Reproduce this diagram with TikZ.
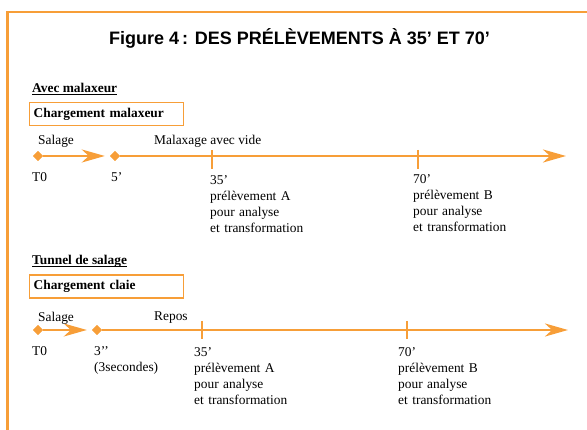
\documentclass[tikz,border=0pt]{standalone}
\usepackage{fontspec}
\setmainfont{Liberation Serif}
\newfontfamily\titlefont{Liberation Sans}
\usetikzlibrary{arrows.meta,shapes.geometric}
\definecolor{salorange}{RGB}{247,158,56}

\begin{document}
\begin{tikzpicture}[
    x=1pt, y=-1pt,
    txt/.style={anchor=base west, inner sep=0pt, font=\fontsize{13.4}{16}\selectfont},
    block/.style={txt, text width=130pt, align=left},
    loadbox/.style={draw=salorange, line width=1.3pt, anchor=north west, minimum width=154pt, minimum height=23pt, text width=146pt, inner xsep=4pt, inner ysep=0pt, align=left, font=\fontsize{13.4}{16}\selectfont\bfseries},
    event/.style={diamond, fill=salorange, inner sep=0pt, minimum size=10pt},
    timeline/.style={draw=salorange, line width=2.6pt, -{Stealth[length=23pt, width=13pt, inset=7pt]}},
    tickmark/.style={draw=salorange, line width=2.4pt},
    frame/.style={draw=salorange, line width=2.6pt}
]
\useasboundingbox (0,0) rectangle (587,430);
\clip (0,0) rectangle (587,430);

\draw[frame] (7.7,440) -- (7.7,12) -- (600,12);

\node[anchor=base, inner sep=0pt, font=\titlefont\bfseries\fontsize{18}{20}\selectfont] (title) at (299.5,45) {Figure 4\,: DES PRÉLÈVEMENTS À 35’ ET 70’};

% avec malaxeur
\node[txt, font=\fontsize{13.4}{16}\selectfont\bfseries] (avec) at (32,93) {\underline{\smash{Avec malaxeur}}};
\node[loadbox] (chargemal) at (29,102) {Chargement malaxeur};

\node[event] (t0mal) at (38,156) {};
\node[event] (t5mal) at (115,156) {};
\coordinate (endmal) at (566,156);
\draw[timeline] (t0mal) -- (t5mal) [shorten >=5pt];
\draw[timeline] (t5mal) -- (endmal);
\node[event] at (t0mal) {};
\node[event] at (t5mal) {};
\draw[tickmark] (212,150) -- (212,169);
\draw[tickmark] (418,150) -- (418,169);

\node[txt] (salmal) at (38,144.5) {Salage};
\node[txt] (vide) at (154,145) {Malaxage avec vide};
\node[txt] (t0malt) at (32,181.5) {T0};
\node[txt] (t5malt) at (111,181.5) {5’};
\node[block] (amal) at (210,184.5) {35’\\prélèvement A\\pour analyse\\et transformation};
\node[block] (bmal) at (413,183.5) {70’\\prélèvement B\\pour analyse\\et transformation};

% tunnel de salage
\node[txt, font=\fontsize{13.4}{16}\selectfont\bfseries] (tunnel) at (32,264.5) {\underline{\smash{Tunnel de salage}}};
\node[loadbox] (chargeclaie) at (29,274.5) {Chargement claie};

\node[event] (t0tun) at (38,330) {};
\node[event] (t3tun) at (97,330) {};
\coordinate (endtun) at (568,330);
\draw[timeline] (t0tun) -- (t3tun) [shorten >=5pt];
\draw[timeline] (t3tun) -- (endtun);
\node[event] at (t0tun) {};
\node[event] at (t3tun) {};
\draw[tickmark] (202,321) -- (202,339);
\draw[tickmark] (407,321) -- (407,339);

\node[txt] (saltun) at (38,321.5) {Salage};
\node[txt] (repos) at (154,321) {Repos};
\node[txt] (t0tunt) at (32,355.5) {T0};
\node[block] (t3tunt) at (94,355.5) {3’’\\(3secondes)};
\node[block] (atun) at (194,356.5) {35’\\prélèvement A\\pour analyse\\et transformation};
\node[block] (btun) at (398,356.5) {70’\\prélèvement B\\pour analyse\\et transformation};

\end{tikzpicture}
\end{document}
